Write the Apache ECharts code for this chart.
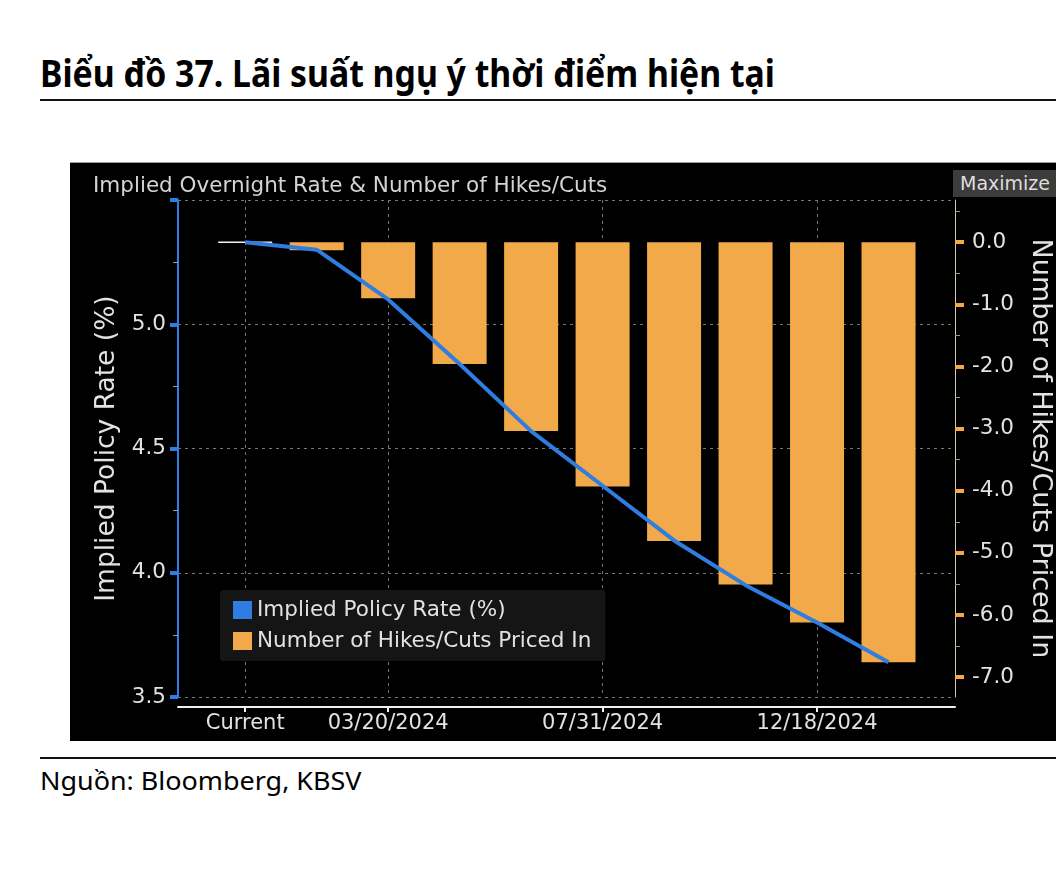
<!DOCTYPE html>
<html><head><meta charset="utf-8">
<script src="https://cdn.jsdelivr.net/npm/echarts@6/dist/echarts.min.js"></script>
<style>
html,body{margin:0;padding:0;background:#fff;width:1056px;height:880px;overflow:hidden;font-family:"Noto Sans",sans-serif;}
#title{position:absolute;left:40px;top:53px;font-weight:700;font-size:38px;line-height:38px;white-space:nowrap;transform-origin:0 0;color:#000;}
#rule1{position:absolute;left:40px;top:99px;width:1016px;height:2px;background:#111;}
#chart{position:absolute;left:70px;top:163px;width:986px;height:578px;background:#000;}
#topedge{position:absolute;left:70px;top:162px;width:986px;height:2px;background:#9a9a9a;}
#maxbtn{position:absolute;left:953px;top:170px;width:103px;height:27px;background:#3c3c3c;color:#dedede;font-family:"DejaVu Sans",sans-serif;font-size:19px;line-height:27px;padding-left:7px;box-sizing:border-box;white-space:nowrap;overflow:hidden;}
#rule2{position:absolute;left:40px;top:757px;width:1016px;height:2px;background:#111;}
#source{position:absolute;left:40px;top:768px;font-size:25px;line-height:25px;white-space:nowrap;transform-origin:0 0;color:#000;}
</style></head>
<body>
<div id="title">Biểu đồ 37. Lãi suất ngụ ý thời điểm hiện tại</div>
<div id="rule1"></div>
<div id="topedge"></div>
<div id="chart"></div>
<div id="maxbtn">Maximize</div>
<div id="rule2"></div>
<div id="source">Nguồn: Bloomberg, KBSV</div>
<script>
// ---- data ----
const categories = ['Current','01/31/2024','03/20/2024','05/01/2024','06/12/2024','07/31/2024','09/18/2024','11/07/2024','12/18/2024','01/29/2025'];
const labeledCategories = ['Current','03/20/2024','07/31/2024','12/18/2024'];
const impliedRate = [5.33,5.30,5.10,4.84,4.57,4.35,4.13,3.95,3.80,3.64];
const hikesCuts = [0,-0.13,-0.90,-1.96,-3.04,-3.93,-4.81,-5.51,-6.12,-6.76];
const rateLabels = [3.5,4.0,4.5,5.0];
const countTicks = [0,-1,-2,-3,-4,-5,-6,-7];
const countMinorTicks = [0.5,-0.5,-1.5,-2.5,-3.5,-4.5,-5.5,-6.5];

// fit page texts to reference widths
function fit(id, w){const el=document.getElementById(id);const k=w/el.scrollWidth;el.style.transform='scaleX('+k+')';}
fit('title',735); fit('source',322);

const FONT = '"DejaVu Sans", sans-serif';
const TXT = '#e2e2e2';
const ORANGE = '#f2a94a';
const BLUE = '#2f7de0';
const catIdx = labeledCategories.map(c => categories.indexOf(c));

const chart = echarts.init(document.getElementById('chart'), null, {renderer:'canvas'});
chart.setOption({
  backgroundColor:'#000',
  animation:false,
  textStyle:{fontFamily:FONT},
  title:{text:'Implied Overnight Rate & Number of Hikes/Cuts', left:18, top:7,
    textStyle:{color:'#d4d4d4', fontSize:21.5, fontWeight:'normal', fontFamily:FONT}},
  legend:{orient:'vertical', left:150, top:427, padding:[9,14,9,13],
    backgroundColor:'#151515', borderRadius:3, itemWidth:19, itemHeight:18, itemGap:9,
    icon:'rect', textStyle:{color:TXT, fontSize:21.5, fontFamily:FONT},
    data:['Implied Policy Rate (%)','Number of Hikes/Cuts Priced In']},
  grid:{left:108, right:101, top:37, bottom:44, containLabel:false, outerBoundsMode:'none'},
  xAxis:{type:'value', min:-0.94, max:9.93, offset:10,
    axisLine:{show:true, onZero:false, lineStyle:{color:'#f0f0f0', width:2}},
    axisTick:{show:true, customValues:catIdx, length:5, lineStyle:{color:'#f0f0f0', width:2}},
    axisLabel:{customValues:catIdx, formatter:v=>categories[Math.round(v)], color:TXT, fontSize:21, margin:6, fontFamily:FONT},
    splitLine:{show:true, lineStyle:{color:'#777', type:[3,4], width:1}}},
  yAxis:[
    {type:'value', position:'left', min:3.5, max:5.5, interval:0.5,
      name:'Implied Policy Rate (%)', nameLocation:'middle', nameGap:55,
      nameTextStyle:{color:TXT, fontSize:26.5, fontFamily:FONT},
      axisLine:{show:true, onZero:false, lineStyle:{color:BLUE, width:2}},
      axisTick:{show:true, length:8, lineStyle:{color:BLUE, width:4}},
      minorTick:{show:true, splitNumber:2, length:5, lineStyle:{color:'#9a9a9a', width:1}},
      axisLabel:{color:TXT, fontSize:21.5, margin:12, fontFamily:FONT,
        formatter:v=>rateLabels.includes(v)?v.toFixed(1):''},
      splitLine:{show:true, lineStyle:{color:'#777', type:[3,4], width:1}}},
    {type:'value', position:'right', min:-7.32, max:0.68,
      name:'Number of Hikes/Cuts Priced In', nameLocation:'middle', nameGap:72, nameRotate:-90,
      nameTextStyle:{color:TXT, fontSize:27, fontFamily:FONT},
      axisLine:{show:true, onZero:false, lineStyle:{color:'#d8c8a8', width:1}},
      axisTick:{show:true, customValues:countTicks, length:9, lineStyle:{color:ORANGE, width:4}},
      axisLabel:{customValues:countTicks, formatter:v=>v.toFixed(1), color:TXT, fontSize:21.5, margin:17, fontFamily:FONT},
      splitLine:{show:false}},
    {type:'value', position:'right', min:-7.32, max:0.68,
      axisLine:{show:false, onZero:false},
      axisTick:{show:true, customValues:countMinorTicks, length:5, lineStyle:{color:'#9a9a9a', width:1}},
      axisLabel:{show:false},
      splitLine:{show:false}}
  ],
  series:[
    {name:'Number of Hikes/Cuts Priced In', type:'bar', yAxisIndex:1, barWidth:54,
      itemStyle:{color:ORANGE},
      data:hikesCuts.map((v,i)=> v===0 ? {value:[i,v], itemStyle:{color:'#fff', borderColor:'#f4f4f4', borderWidth:1.5}} : {value:[i,v]}),
      z:2},
    {name:'Implied Policy Rate (%)', type:'line', yAxisIndex:0, symbol:'none',
      lineStyle:{color:BLUE, width:4}, itemStyle:{color:BLUE},
      data:impliedRate.map((v,i)=>[i,v]), z:3}
  ]
});
</script>
</body></html>
